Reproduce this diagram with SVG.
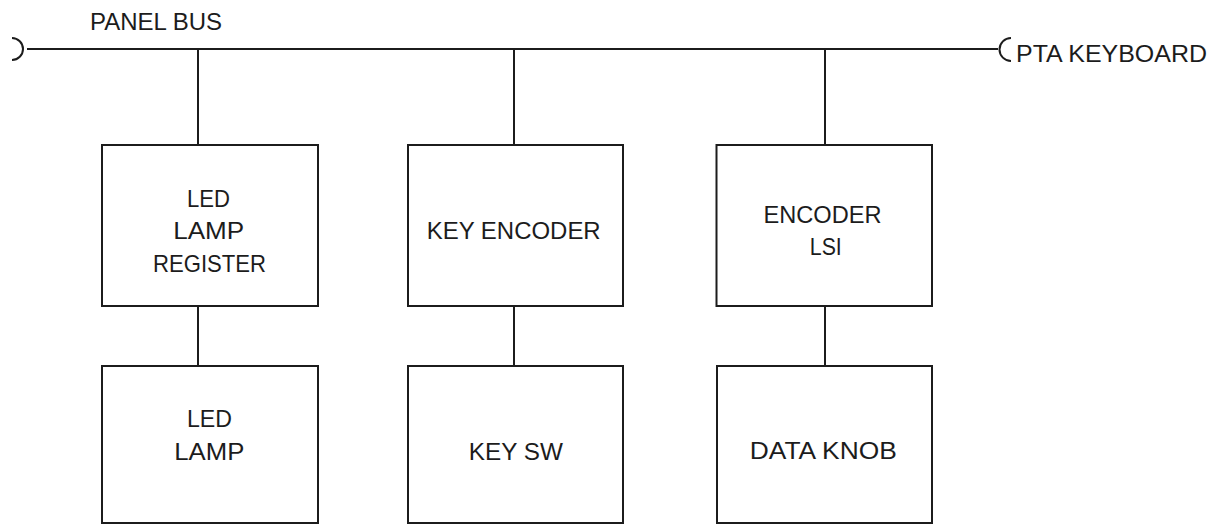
<svg xmlns="http://www.w3.org/2000/svg" width="1214" height="524" viewBox="0 0 1214 524">
<style>
.bg{fill:#ffffff}
.box{fill:none;stroke:#1c1c1c;stroke-width:2}
.ln{fill:none;stroke:#1c1c1c;stroke-width:2}
text{font-family:"Liberation Sans",Arial,sans-serif;font-size:24px;fill:#1c1c1c;text-anchor:middle}
.lbl{text-anchor:start}
</style>
<rect class="bg" x="0" y="0" width="1214" height="524"/>
<g id="connectors">
<path class="ln" d="M27,49 H998"/>
<path class="ln" d="M12,38 A11,11 0 0 1 12,60"/>
<path class="ln" d="M1011,38 A11.5,11.5 0 0 0 1011,61"/>
<path class="ln" d="M198,49 V145"/>
<path class="ln" d="M514,49 V145"/>
<path class="ln" d="M825,49 V145"/>
<path class="ln" d="M198,306 V366"/>
<path class="ln" d="M514,306 V366"/>
<path class="ln" d="M825,306 V366"/>
</g>
<g id="bus-labels">
<text class="lbl" x="90" y="30" textLength="132" lengthAdjust="spacingAndGlyphs" font-size="21">PANEL BUS</text>
<text class="lbl" x="1016" y="62" textLength="191" lengthAdjust="spacingAndGlyphs">PTA KEYBOARD</text>
</g>
<g id="led-lamp-register">
<rect class="box" x="102" y="145" width="216" height="161"/>
<text x="208.5" y="206.7" textLength="43" lengthAdjust="spacingAndGlyphs">LED</text>
<text x="208.7" y="239.3" textLength="71" lengthAdjust="spacingAndGlyphs">LAMP</text>
<text x="209.5" y="271.7" textLength="113" lengthAdjust="spacingAndGlyphs">REGISTER</text>
</g>
<g id="key-encoder">
<rect class="box" x="408" y="145" width="215" height="161"/>
<text x="513.7" y="239.3" textLength="174" lengthAdjust="spacingAndGlyphs">KEY ENCODER</text>
</g>
<g id="encoder-lsi">
<rect class="box" x="716.5" y="145" width="215.5" height="161"/>
<text x="822.5" y="223.3" textLength="118" lengthAdjust="spacingAndGlyphs">ENCODER</text>
<text x="825.8" y="255" textLength="32" lengthAdjust="spacingAndGlyphs">LSI</text>
</g>
<g id="led-lamp">
<rect class="box" x="102" y="366" width="216" height="157"/>
<text x="209.5" y="426.7" textLength="45" lengthAdjust="spacingAndGlyphs">LED</text>
<text x="209.3" y="460" textLength="70" lengthAdjust="spacingAndGlyphs">LAMP</text>
</g>
<g id="key-sw">
<rect class="box" x="408" y="366" width="215" height="157"/>
<text x="515.8" y="460" textLength="94" lengthAdjust="spacingAndGlyphs">KEY SW</text>
</g>
<g id="data-knob">
<rect class="box" x="717" y="366" width="215" height="157"/>
<text x="823.3" y="459.3" textLength="147" lengthAdjust="spacingAndGlyphs">DATA KNOB</text>
</g>
</svg>
